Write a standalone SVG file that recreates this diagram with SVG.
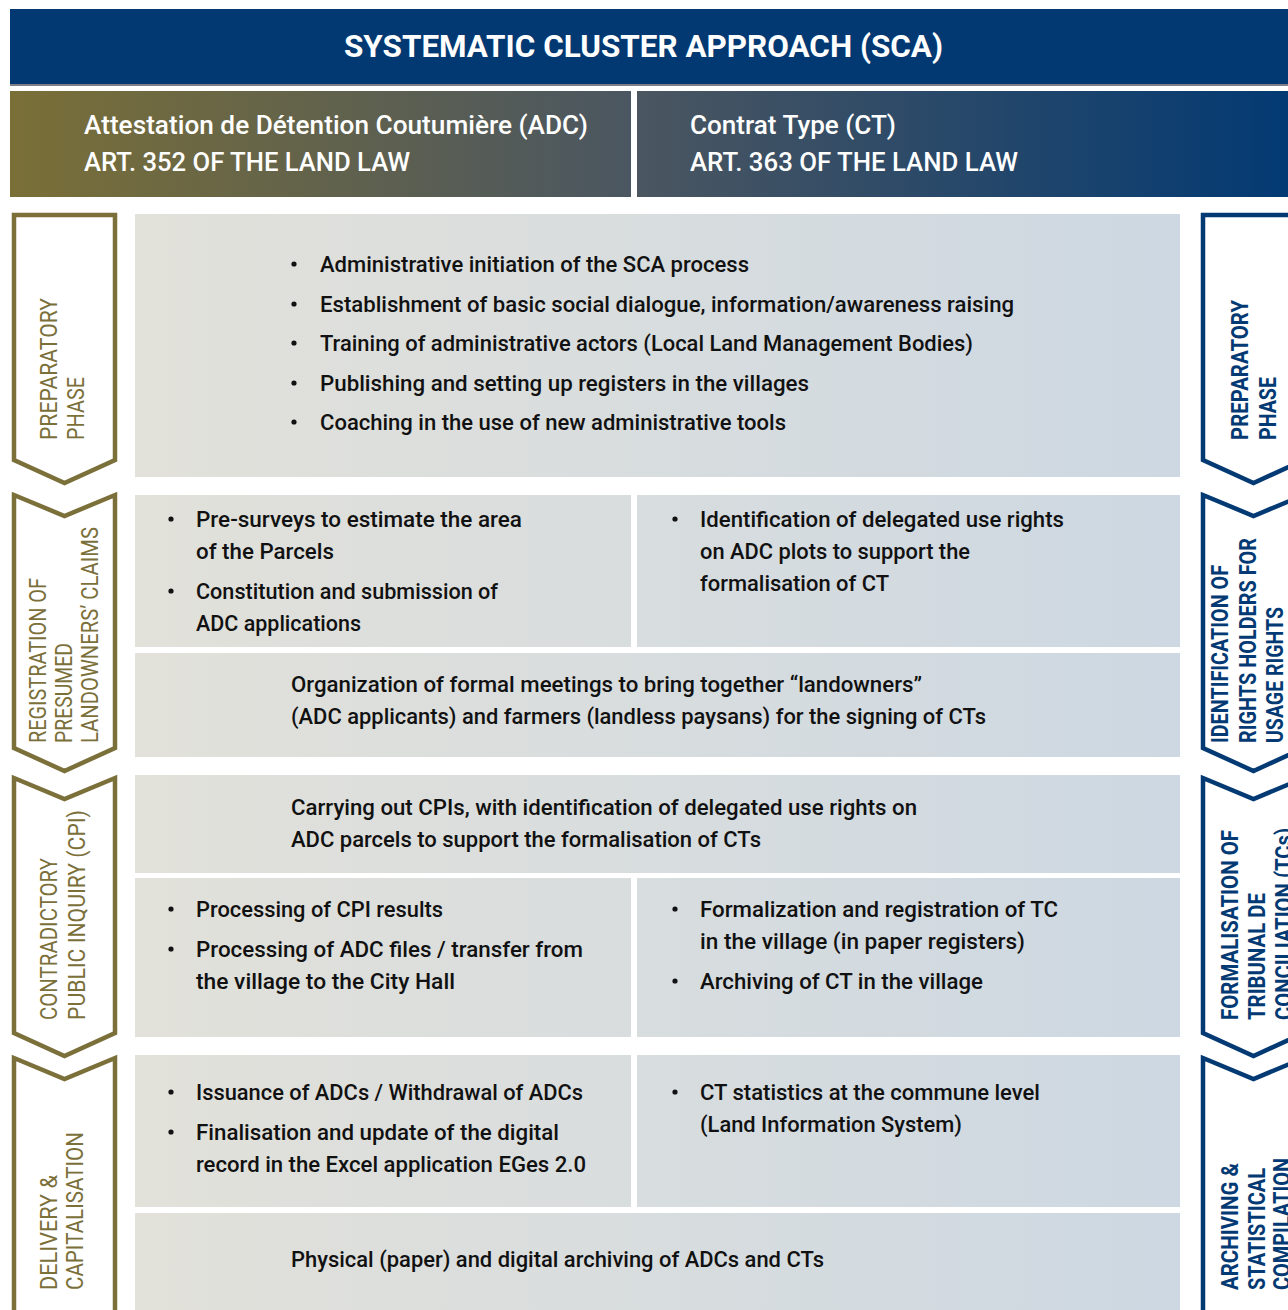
<svg xmlns="http://www.w3.org/2000/svg" width="1288" height="1310" viewBox="0 0 1288 1310">
<defs>
<linearGradient id="gAdc" gradientUnits="userSpaceOnUse" x1="10" y1="0" x2="631" y2="0"><stop offset="0" stop-color="#7a6f37"/><stop offset="1" stop-color="#4a5661"/></linearGradient>
<linearGradient id="gCt" gradientUnits="userSpaceOnUse" x1="637" y1="0" x2="1288" y2="0"><stop offset="0" stop-color="#4b5660"/><stop offset="1" stop-color="#033a73"/></linearGradient>
<linearGradient id="gPanel" gradientUnits="userSpaceOnUse" x1="135" y1="0" x2="1180" y2="0"><stop offset="0" stop-color="#e2e1da"/><stop offset="1" stop-color="#cdd8e2"/></linearGradient>
<style>
.t{font-family:Roboto,"Liberation Sans",sans-serif;font-weight:500;font-size:22px;fill:#111}
.h{font-family:Roboto,"Liberation Sans",sans-serif;font-weight:500;font-size:25px;fill:#fff}
.ttl{font-family:Roboto,"Liberation Sans",sans-serif;font-weight:700;font-size:31px;fill:#fff}
.lo{fill:#fff;stroke:#7b6f3a;stroke-width:4.5;stroke-linejoin:miter}
.ro{fill:#fff;stroke:#033a73;stroke-width:4.5;stroke-linejoin:miter}
.ll{font-family:Roboto,"Liberation Sans",sans-serif;font-weight:400;font-size:24px;fill:#7b6f3a}
.rl{font-family:Roboto,"Liberation Sans",sans-serif;font-weight:700;font-size:24px;fill:#033a73}
.p{fill:url(#gPanel)}
.b{fill:#111}
</style>
</defs>
<rect width="1288" height="1310" fill="#fff"/>

<g id="title">
<rect x="10" y="9" width="1278" height="76" fill="#023972"/>
<rect x="10" y="84" width="1278" height="2" fill="#7d8088"/>
<text class="ttl" x="344" y="57" textLength="599" lengthAdjust="spacingAndGlyphs">SYSTEMATIC CLUSTER APPROACH (SCA)</text>
</g>

<g id="header-adc">
<rect x="10" y="91" width="621" height="106" fill="url(#gAdc)"/>
<text class="h" x="84" y="134" textLength="504" lengthAdjust="spacingAndGlyphs">Attestation de Détention Coutumière (ADC)</text>
<text class="h" x="84" y="171" textLength="326" lengthAdjust="spacingAndGlyphs">ART. 352 OF THE LAND LAW</text>
</g>
<g id="header-ct">
<rect x="637" y="91" width="651" height="106" fill="url(#gCt)"/>
<text class="h" x="690" y="134" textLength="206" lengthAdjust="spacingAndGlyphs">Contrat Type (CT)</text>
<text class="h" x="690" y="171" textLength="328" lengthAdjust="spacingAndGlyphs">ART. 363 OF THE LAND LAW</text>
</g>

<g id="connectors"/>

<!-- Left phase arrows -->
<g id="left-phase-1">
<path class="lo" d="M14,215 H115 V460 L64.5,483 L14,460 Z"/>
<text class="ll" transform="translate(57,440) rotate(-90)" textLength="142" lengthAdjust="spacingAndGlyphs">PREPARATORY</text>
<text class="ll" transform="translate(84,440) rotate(-90)" textLength="63" lengthAdjust="spacingAndGlyphs">PHASE</text>
</g>
<g id="left-phase-2">
<path class="lo" d="M14,495 L64.5,516 L115,495 V748 L64.5,771 L14,748 Z"/>
<text class="ll" transform="translate(46,743) rotate(-90)" textLength="165" lengthAdjust="spacingAndGlyphs">REGISTRATION OF</text>
<text class="ll" transform="translate(72,743) rotate(-90)" textLength="100" lengthAdjust="spacingAndGlyphs">PRESUMED</text>
<text class="ll" transform="translate(98,743) rotate(-90)" textLength="216" lengthAdjust="spacingAndGlyphs">LANDOWNERS’ CLAIMS</text>
</g>
<g id="left-phase-3">
<path class="lo" d="M14,778 L64.5,799 L115,778 V1033 L64.5,1056 L14,1033 Z"/>
<text class="ll" transform="translate(57,1020) rotate(-90)" textLength="162" lengthAdjust="spacingAndGlyphs">CONTRADICTORY</text>
<text class="ll" transform="translate(85,1020) rotate(-90)" textLength="210" lengthAdjust="spacingAndGlyphs">PUBLIC INQUIRY (CPI)</text>
</g>
<g id="left-phase-4">
<path class="lo" d="M14,1058 L64.5,1079 L115,1058 V1320 H14 Z"/>
<text class="ll" transform="translate(57,1290) rotate(-90)" textLength="115" lengthAdjust="spacingAndGlyphs">DELIVERY &amp;</text>
<text class="ll" transform="translate(83,1290) rotate(-90)" textLength="158" lengthAdjust="spacingAndGlyphs">CAPITALISATION</text>
</g>

<!-- Right phase arrows -->
<g id="right-phase-1">
<path class="ro" d="M1203,215 H1304 V460 L1253.5,483 L1203,460 Z"/>
<text class="rl" transform="translate(1248,440) rotate(-90)" textLength="140" lengthAdjust="spacingAndGlyphs">PREPARATORY</text>
<text class="rl" transform="translate(1276,440) rotate(-90)" textLength="63" lengthAdjust="spacingAndGlyphs">PHASE</text>
</g>
<g id="right-phase-2">
<path class="ro" d="M1203,495 L1253.5,516 L1304,495 V748 L1253.5,771 L1203,748 Z"/>
<text class="rl" transform="translate(1228,743) rotate(-90)" textLength="178" lengthAdjust="spacingAndGlyphs">IDENTIFICATION OF</text>
<text class="rl" transform="translate(1256,743) rotate(-90)" textLength="205" lengthAdjust="spacingAndGlyphs">RIGHTS HOLDERS FOR</text>
<text class="rl" transform="translate(1283,743) rotate(-90)" textLength="136" lengthAdjust="spacingAndGlyphs">USAGE RIGHTS</text>
</g>
<g id="right-phase-3">
<path class="ro" d="M1203,778 L1253.5,799 L1304,778 V1033 L1253.5,1056 L1203,1033 Z"/>
<text class="rl" transform="translate(1238,1020) rotate(-90)" textLength="190" lengthAdjust="spacingAndGlyphs">FORMALISATION OF</text>
<text class="rl" transform="translate(1265,1020) rotate(-90)" textLength="127" lengthAdjust="spacingAndGlyphs">TRIBUNAL DE</text>
<text class="rl" transform="translate(1292,1020) rotate(-90)" textLength="192" lengthAdjust="spacingAndGlyphs">CONCILIATION (TCs)</text>
</g>
<g id="right-phase-4">
<path class="ro" d="M1203,1058 L1253.5,1079 L1304,1058 V1320 H1203 Z"/>
<text class="rl" transform="translate(1238,1290) rotate(-90)" textLength="127" lengthAdjust="spacingAndGlyphs">ARCHIVING &amp;</text>
<text class="rl" transform="translate(1265,1290) rotate(-90)" textLength="122" lengthAdjust="spacingAndGlyphs">STATISTICAL</text>
<text class="rl" transform="translate(1290,1290) rotate(-90)" textLength="132" lengthAdjust="spacingAndGlyphs">COMPILATION</text>
</g>

<!-- Panel 1 -->
<g id="panel-preparatory">
<rect class="p" x="135" y="214" width="1045" height="263"/>
<circle class="b" cx="294" cy="264" r="2.6"/>
<circle class="b" cx="294" cy="304" r="2.6"/>
<circle class="b" cx="294" cy="343" r="2.6"/>
<circle class="b" cx="294" cy="383" r="2.6"/>
<circle class="b" cx="294" cy="422" r="2.6"/>
<text class="t" x="320" y="272" textLength="429" lengthAdjust="spacingAndGlyphs">Administrative initiation of the SCA process</text>
<text class="t" x="320" y="312" textLength="694" lengthAdjust="spacingAndGlyphs">Establishment of basic social dialogue, information/awareness raising</text>
<text class="t" x="320" y="351" textLength="653" lengthAdjust="spacingAndGlyphs">Training of administrative actors (Local Land Management Bodies)</text>
<text class="t" x="320" y="391" textLength="489" lengthAdjust="spacingAndGlyphs">Publishing and setting up registers in the villages</text>
<text class="t" x="320" y="430" textLength="466" lengthAdjust="spacingAndGlyphs">Coaching in the use of new administrative tools</text>
</g>

<!-- Panel 2 -->
<g id="panel-registration-adc">
<rect class="p" x="135" y="495" width="496" height="152"/>
<circle class="b" cx="171" cy="519" r="2.6"/>
<circle class="b" cx="171" cy="591" r="2.6"/>
<text class="t" x="196" y="527" textLength="326" lengthAdjust="spacingAndGlyphs">Pre-surveys to estimate the area</text>
<text class="t" x="196" y="559" textLength="138" lengthAdjust="spacingAndGlyphs">of the Parcels</text>
<text class="t" x="196" y="599" textLength="302" lengthAdjust="spacingAndGlyphs">Constitution and submission of</text>
<text class="t" x="196" y="631" textLength="165" lengthAdjust="spacingAndGlyphs">ADC applications</text>
</g>
<g id="panel-registration-ct">
<rect class="p" x="637" y="495" width="543" height="152"/>
<circle class="b" cx="675" cy="519" r="2.6"/>
<text class="t" x="700" y="527" textLength="364" lengthAdjust="spacingAndGlyphs">Identification of delegated use rights</text>
<text class="t" x="700" y="559" textLength="270" lengthAdjust="spacingAndGlyphs">on ADC plots to support the</text>
<text class="t" x="700" y="591" textLength="189" lengthAdjust="spacingAndGlyphs">formalisation of CT</text>
</g>
<g id="panel-registration-meetings">
<rect class="p" x="135" y="653" width="1045" height="104"/>
<text class="t" x="291" y="692" textLength="631" lengthAdjust="spacingAndGlyphs">Organization of formal meetings to bring together “landowners”</text>
<text class="t" x="291" y="724" textLength="695" lengthAdjust="spacingAndGlyphs">(ADC applicants) and farmers (landless paysans) for the signing of CTs</text>
</g>

<!-- Panel 3 -->
<g id="panel-cpi-carry">
<rect class="p" x="135" y="775" width="1045" height="98"/>
<text class="t" x="291" y="815" textLength="626" lengthAdjust="spacingAndGlyphs">Carrying out CPIs, with identification of delegated use rights on</text>
<text class="t" x="291" y="847" textLength="470" lengthAdjust="spacingAndGlyphs">ADC parcels to support the formalisation of CTs</text>
</g>
<g id="panel-cpi-adc">
<rect class="p" x="135" y="878" width="496" height="159"/>
<circle class="b" cx="171" cy="909" r="2.6"/>
<circle class="b" cx="171" cy="949" r="2.6"/>
<text class="t" x="196" y="917" textLength="247" lengthAdjust="spacingAndGlyphs">Processing of CPI results</text>
<text class="t" x="196" y="957" textLength="387" lengthAdjust="spacingAndGlyphs">Processing of ADC files / transfer from</text>
<text class="t" x="196" y="989" textLength="259" lengthAdjust="spacingAndGlyphs">the village to the City Hall</text>
</g>
<g id="panel-cpi-ct">
<rect class="p" x="637" y="878" width="543" height="159"/>
<circle class="b" cx="675" cy="909" r="2.6"/>
<circle class="b" cx="675" cy="981" r="2.6"/>
<text class="t" x="700" y="917" textLength="358" lengthAdjust="spacingAndGlyphs">Formalization and registration of TC</text>
<text class="t" x="700" y="949" textLength="325" lengthAdjust="spacingAndGlyphs">in the village (in paper registers)</text>
<text class="t" x="700" y="989" textLength="283" lengthAdjust="spacingAndGlyphs">Archiving of CT in the village</text>
</g>

<!-- Panel 4 -->
<g id="panel-delivery-adc">
<rect class="p" x="135" y="1055" width="496" height="152"/>
<circle class="b" cx="171" cy="1092" r="2.6"/>
<circle class="b" cx="171" cy="1132" r="2.6"/>
<text class="t" x="196" y="1100" textLength="387" lengthAdjust="spacingAndGlyphs">Issuance of ADCs / Withdrawal of ADCs</text>
<text class="t" x="196" y="1140" textLength="363" lengthAdjust="spacingAndGlyphs">Finalisation and update of the digital</text>
<text class="t" x="196" y="1172" textLength="390" lengthAdjust="spacingAndGlyphs">record in the Excel application EGes 2.0</text>
</g>
<g id="panel-delivery-ct">
<rect class="p" x="637" y="1055" width="543" height="152"/>
<circle class="b" cx="675" cy="1092" r="2.6"/>
<text class="t" x="700" y="1100" textLength="340" lengthAdjust="spacingAndGlyphs">CT statistics at the commune level</text>
<text class="t" x="700" y="1132" textLength="262" lengthAdjust="spacingAndGlyphs">(Land Information System)</text>
</g>
<g id="panel-delivery-archiving">
<rect class="p" x="135" y="1213" width="1045" height="110"/>
<text class="t" x="291" y="1267" textLength="533" lengthAdjust="spacingAndGlyphs">Physical (paper) and digital archiving of ADCs and CTs</text>
</g>
</svg>
